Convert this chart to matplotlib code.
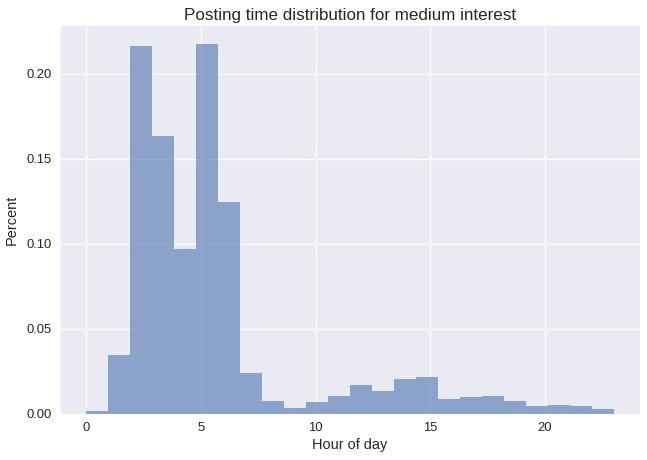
import numpy as np
import matplotlib
matplotlib.use("Agg")
import matplotlib.pyplot as plt
import seaborn as sns

# ==========================
# Data
# ==========================

hours = np.arange(24)
share = [0.0015, 0.0348, 0.2160, 0.1634, 0.0968, 0.2177, 0.1245, 0.0237,
         0.0077, 0.0035, 0.0071, 0.0106, 0.0171, 0.0136, 0.0206, 0.0218,
         0.0088, 0.0100, 0.0106, 0.0077, 0.0047, 0.0053, 0.0047, 0.0030]
bin_edges = np.linspace(0, 23, 25)

# ==========================
# Style
# ==========================

sns.set_style("darkgrid")
plt.rcParams["font.family"] = ["Liberation Sans", "DejaVu Sans"]
plt.rcParams["text.color"] = ".15"
plt.rcParams["axes.labelcolor"] = ".15"
plt.rcParams["xtick.color"] = ".15"
plt.rcParams["ytick.color"] = ".15"

# ==========================
# Graph
# ==========================

fig = plt.figure(figsize=(647 / 72, 460 / 72), dpi=72)
ax = fig.add_axes([60 / 647, 1 - 413.7 / 460, 580 / 647, 388.7 / 460])

ax.hist(bin_edges[:-1], bins=bin_edges, weights=share,
        color="#4C72B0", alpha=0.6, linewidth=0)

ax.set_xticks([0, 5, 10, 15, 20])
ax.set_yticks([0.0, 0.05, 0.10, 0.15, 0.20])
ax.yaxis.set_major_formatter(matplotlib.ticker.FormatStrFormatter("%.2f"))
ax.tick_params(labelsize=13, length=0, pad=8)
ax.grid(color="white", linewidth=1.25)

ax.set_title("Posting time distribution for medium interest", fontsize=17, pad=5)
ax.set_xlabel("Hour of day", fontsize=14.5, labelpad=4)
ax.set_ylabel("Percent", fontsize=14.5, labelpad=8)

fig.savefig("out.png", dpi=72)
